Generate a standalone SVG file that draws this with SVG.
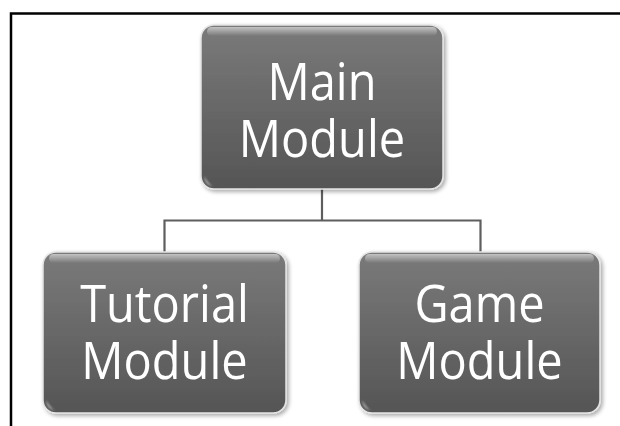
<svg xmlns="http://www.w3.org/2000/svg" width="620" height="426" viewBox="0 0 620 426">
  <style>
    .frame { fill: none; stroke: #000; stroke-width: 2.5; }
    .link { fill: none; stroke: #5e5e5e; stroke-width: 2.2; }
    .body { fill: url(#bodyFill); stroke: #e4e4e4; stroke-width: 1.5; filter: url(#drop); }
    .gloss { fill: url(#glossFill); }
    .spot { fill: #ffffff; opacity: 0.85; filter: url(#soft); }
    .label { font-family: "Open Sans", "Liberation Sans", sans-serif; font-size: 47px; fill: #ffffff; text-anchor: middle; }
  </style>
  <defs>
    <linearGradient id="bodyFill" x1="0" y1="0" x2="0" y2="1">
      <stop offset="0" stop-color="#7a7a7a"/>
      <stop offset="1" stop-color="#555555"/>
    </linearGradient>
    <linearGradient id="glossFill" x1="0" y1="0" x2="0" y2="1">
      <stop offset="0" stop-color="#ffffff" stop-opacity="0.55"/>
      <stop offset="1" stop-color="#ffffff" stop-opacity="0"/>
    </linearGradient>
    <filter id="drop" x="-10%" y="-10%" width="125%" height="125%">
      <feGaussianBlur in="SourceAlpha" stdDeviation="2"/>
      <feOffset dx="1.5" dy="2" result="b"/>
      <feComponentTransfer><feFuncA type="linear" slope="0.35"/></feComponentTransfer>
      <feMerge><feMergeNode/><feMergeNode in="SourceGraphic"/></feMerge>
    </filter>
    <filter id="soft" x="-50%" y="-50%" width="200%" height="200%">
      <feGaussianBlur stdDeviation="0.8"/>
    </filter>
  </defs>

  <!-- outer frame -->
  <path class="frame" d="M11 426 V13.5 H620"/>

  <!-- tree connectors -->
  <g id="connectors">
    <path class="link" d="M322 189 V220.5"/>
    <path class="link" d="M164.5 252 V220.5 H480.5 V252"/>
  </g>

  <g id="main">
    <rect class="body" x="201" y="25" width="242" height="164" rx="13"/>
    <rect class="gloss" x="207" y="27" width="230" height="9" rx="4.5"/>
    <path class="spot" d="M204 176 Q205 184 213 187 Q207 183 204 176 Z"/>
    <text class="label" transform="translate(322 0) scale(1 1.1)"><tspan x="0" y="90.5">Main</tspan><tspan x="0" y="142.5">Module</tspan></text>
  </g>

  <g id="tutorial">
    <rect class="body" x="43" y="252" width="243" height="161" rx="13"/>
    <rect class="gloss" x="49" y="254" width="231" height="9" rx="4.5"/>
    <path class="spot" d="M46 400 Q47 408 55 411 Q49 407 46 400 Z"/>
    <text class="label" transform="translate(164.5 0) scale(1 1.1)"><tspan x="0" y="293">Tutorial</tspan><tspan x="0" y="345">Module</tspan></text>
  </g>

  <g id="game">
    <rect class="body" x="359" y="252" width="241" height="161" rx="13"/>
    <rect class="gloss" x="365" y="254" width="229" height="9" rx="4.5"/>
    <path class="spot" d="M362 400 Q363 408 371 411 Q365 407 362 400 Z"/>
    <text class="label" transform="translate(479.5 0) scale(1 1.1)"><tspan x="0" y="293">Game</tspan><tspan x="0" y="345">Module</tspan></text>
  </g>
</svg>
